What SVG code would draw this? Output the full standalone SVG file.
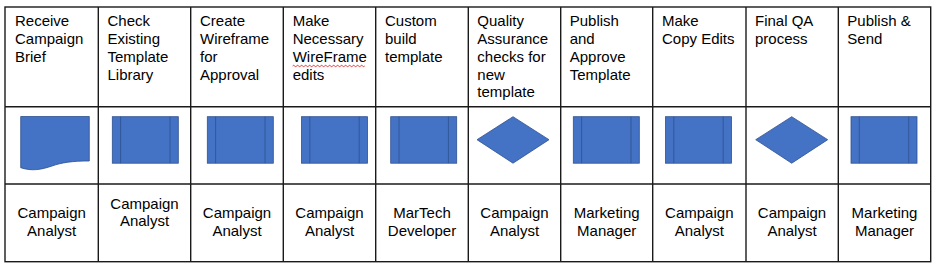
<svg xmlns="http://www.w3.org/2000/svg" width="936" height="267" viewBox="0 0 936 267">
<style>
.t{font-family:"Liberation Sans",Arial,sans-serif;font-size:15px;fill:#000}
.c{text-anchor:middle}
.g{stroke:#1a1a1a;stroke-width:1.4;fill:none}
.s{fill:#4472C4;stroke:#2F528F;stroke-width:0.8}
.sl{stroke:#2F528F;stroke-width:0.8;fill:none}
</style>
<defs>
<g id="pp"><rect class="s" x="0" y="0" width="66" height="46.5"/><line class="sl" x1="8.3" y1="0" x2="8.3" y2="46.5"/><line class="sl" x1="57.7" y1="0" x2="57.7" y2="46.5"/></g>
<polygon id="dm" class="s" points="0,23 36,0 72,23 36,46.5"/>
</defs>
<rect x="0" y="0" width="936" height="267" fill="#fff"/>
<g id="grid">
<rect class="g" x="5" y="7" width="925.7" height="254.7"/>
<line class="g" x1="5" y1="106.7" x2="930.7" y2="106.7"/>
<line class="g" x1="5" y1="184" x2="930.7" y2="184"/>
<line class="g" x1="98.3" y1="7" x2="98.3" y2="261.7"/>
<line class="g" x1="190.7" y1="7" x2="190.7" y2="261.7"/>
<line class="g" x1="283.3" y1="7" x2="283.3" y2="261.7"/>
<line class="g" x1="375.7" y1="7" x2="375.7" y2="261.7"/>
<line class="g" x1="468.3" y1="7" x2="468.3" y2="261.7"/>
<line class="g" x1="560.7" y1="7" x2="560.7" y2="261.7"/>
<line class="g" x1="652.7" y1="7" x2="652.7" y2="261.7"/>
<line class="g" x1="746" y1="7" x2="746" y2="261.7"/>
<line class="g" x1="838.3" y1="7" x2="838.3" y2="261.7"/>
</g>
<g id="connectors"></g>
<g id="step1">
<text class="t" x="15" y="26">Receive</text><text class="t" x="15" y="44">Campaign</text><text class="t" x="15" y="62">Brief</text>
<path class="s" d="M20.7,116.5 H89.3 V161 C72,161 62,162.5 52,166 C42,169.5 32,171.5 20.7,167.7 Z"/>
<text class="t c" x="51.7" y="218">Campaign</text><text class="t c" x="51.7" y="235.5">Analyst</text>
</g>
<g id="step2">
<text class="t" x="107.5" y="26">Check</text><text class="t" x="107.5" y="44">Existing</text><text class="t" x="107.5" y="62">Template</text><text class="t" x="107.5" y="80">Library</text>
<use href="#pp" x="112.3" y="116.7"/>
<text class="t c" x="144.5" y="208.5">Campaign</text><text class="t c" x="144.5" y="226">Analyst</text>
</g>
<g id="step3">
<text class="t" x="200" y="26">Create</text><text class="t" x="200" y="44">Wireframe</text><text class="t" x="200" y="62">for</text><text class="t" x="200" y="80">Approval</text>
<use href="#pp" x="207.3" y="116.7"/>
<text class="t c" x="237" y="218">Campaign</text><text class="t c" x="237" y="235.5">Analyst</text>
</g>
<g id="step4">
<text class="t" x="292.7" y="26">Make</text><text class="t" x="292.7" y="44">Necessary</text><text class="t" x="292.7" y="62">WireFrame</text><text class="t" x="292.7" y="80">edits</text>
<path d="M292.7,66 q1,-1.4 2,0 t2,0 t2,0 t2,0 t2,0 t2,0 t2,0 t2,0 t2,0 t2,0 t2,0 t2,0 t2,0 t2,0 t2,0 t2,0 t2,0 t2,0 t2,0 t2,0 t2,0 t2,0 t2,0 t2,0 t2,0 t2,0 t2,0 t2,0 t2,0 t2,0 t2,0 t2,0 t2,0 t2,0 t2,0 t2,0" fill="none" stroke="#e02020" stroke-width="0.9"/>
<use href="#pp" x="301.5" y="116.7"/>
<text class="t c" x="329.5" y="218">Campaign</text><text class="t c" x="329.5" y="235.5">Analyst</text>
</g>
<g id="step5">
<text class="t" x="385" y="26">Custom</text><text class="t" x="385" y="44">build</text><text class="t" x="385" y="62">template</text>
<use href="#pp" x="390.7" y="116.7"/>
<text class="t c" x="422" y="218">MarTech</text><text class="t c" x="422" y="235.5">Developer</text>
</g>
<g id="step6">
<text class="t" x="477.3" y="26">Quality</text><text class="t" x="477.3" y="44">Assurance</text><text class="t" x="477.3" y="62">checks for</text><text class="t" x="477.3" y="80">new</text><text class="t" x="477.3" y="97">template</text>
<use href="#dm" x="477" y="116.7"/>
<text class="t c" x="514.5" y="218">Campaign</text><text class="t c" x="514.5" y="235.5">Analyst</text>
</g>
<g id="step7">
<text class="t" x="569.7" y="26">Publish</text><text class="t" x="569.7" y="44">and</text><text class="t" x="569.7" y="62">Approve</text><text class="t" x="569.7" y="80">Template</text>
<use href="#pp" x="573.3" y="116.7"/>
<text class="t c" x="606.7" y="218">Marketing</text><text class="t c" x="606.7" y="235.5">Manager</text>
</g>
<g id="step8">
<text class="t" x="662" y="26">Make</text><text class="t" x="662" y="44">Copy Edits</text>
<use href="#pp" x="665.5" y="116.7"/>
<text class="t c" x="699.3" y="218">Campaign</text><text class="t c" x="699.3" y="235.5">Analyst</text>
</g>
<g id="step9">
<text class="t" x="755" y="26">Final QA</text><text class="t" x="755" y="44">process</text>
<use href="#dm" x="755.7" y="116.7"/>
<text class="t c" x="792" y="218">Campaign</text><text class="t c" x="792" y="235.5">Analyst</text>
</g>
<g id="step10">
<text class="t" x="847.3" y="26">Publish &amp;</text><text class="t" x="847.3" y="44">Send</text>
<use href="#pp" x="851" y="116.7"/>
<text class="t c" x="884.5" y="218">Marketing</text><text class="t c" x="884.5" y="235.5">Manager</text>
</g>
</svg>
